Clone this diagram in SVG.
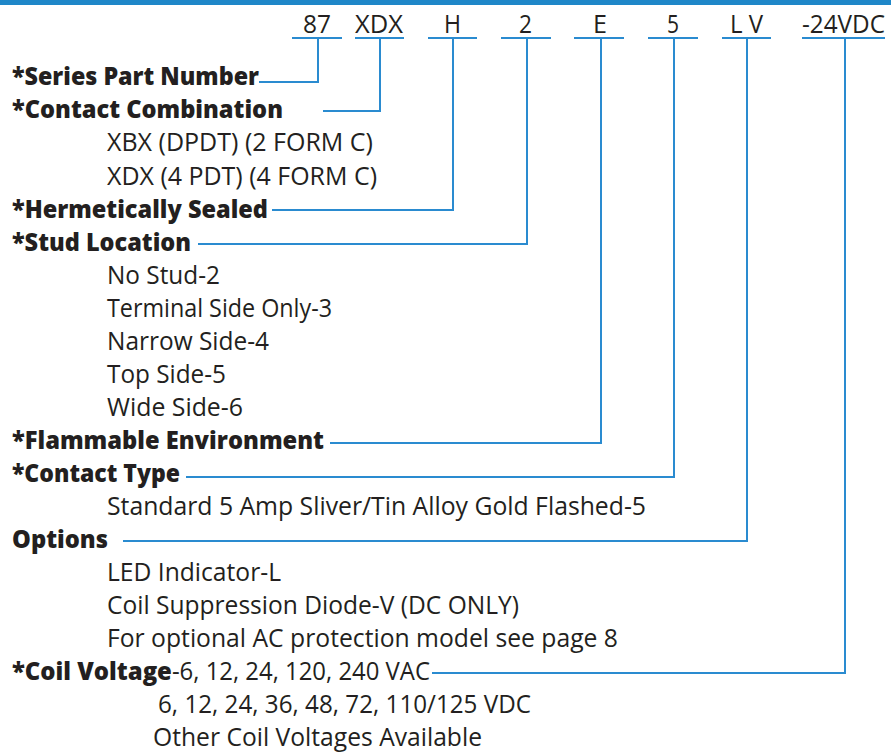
<svg xmlns="http://www.w3.org/2000/svg" width="891" height="755" viewBox="0 0 891 755">
<style>
text{font-family:"Open Sans","Noto Sans","Liberation Sans",sans-serif;font-size:25px;fill:#231f20}
.b{font-weight:800}
.c{fill:none;stroke:#2a8bd0;stroke-width:2}
</style>
<rect x="0" y="0" width="891" height="5" fill="#1f87c8"/>
<g id="code">
<g id="c-87"><text x="303" y="33" textLength="28" lengthAdjust="spacingAndGlyphs">87</text></g>
<g id="c-xdx"><text x="355" y="33" textLength="48" lengthAdjust="spacingAndGlyphs">XDX</text></g>
<g id="c-h"><text x="444" y="33" textLength="17" lengthAdjust="spacingAndGlyphs">H</text></g>
<g id="c-2"><text x="519" y="33" textLength="13" lengthAdjust="spacingAndGlyphs">2</text></g>
<g id="c-e"><text x="593" y="33" textLength="14" lengthAdjust="spacingAndGlyphs">E</text></g>
<g id="c-5"><text x="667" y="33" textLength="12" lengthAdjust="spacingAndGlyphs">5</text></g>
<g id="c-lv"><text x="730" y="33" textLength="33" lengthAdjust="spacingAndGlyphs">L V</text></g>
<g id="c-24vdc"><text x="802" y="33" textLength="83" lengthAdjust="spacingAndGlyphs">-24VDC</text></g>
</g>
<g id="connectors">
<path class="c" d="M292 38H342M355 38H404M428 38H477M501 38H551M574 38H624M648 38H698M722 38H771M802 38H885"/>
<polyline class="c" points="259,82 318,82 318,38"/>
<polyline class="c" points="323,111 380,111 380,38"/>
<polyline class="c" points="272,210 453,210 453,38"/>
<polyline class="c" points="198,244 527,244 527,38"/>
<polyline class="c" points="330,443 601,443 601,38"/>
<polyline class="c" points="186,477 674,477 674,38"/>
<polyline class="c" points="123,541 747,541 747,38"/>
<polyline class="c" points="432,673 845,673 845,38"/>
</g>
<g id="series"><text class="b" x="12" y="85" textLength="247" lengthAdjust="spacingAndGlyphs">*Series Part Number</text></g>
<g id="contact-combination">
<text class="b" x="12" y="118" textLength="271" lengthAdjust="spacingAndGlyphs">*Contact Combination</text>
<text x="107" y="151" textLength="266" lengthAdjust="spacingAndGlyphs">XBX (DPDT) (2 FORM C)</text>
<text x="107" y="185" textLength="270" lengthAdjust="spacingAndGlyphs">XDX (4 PDT) (4 FORM C)</text>
</g>
<g id="hermetic"><text class="b" x="12" y="218" textLength="256" lengthAdjust="spacingAndGlyphs">*Hermetically Sealed</text></g>
<g id="stud">
<text class="b" x="12" y="251" textLength="179" lengthAdjust="spacingAndGlyphs">*Stud Location</text>
<text x="107" y="284" textLength="113" lengthAdjust="spacingAndGlyphs">No Stud-2</text>
<text x="107" y="317" textLength="225" lengthAdjust="spacingAndGlyphs">Terminal Side Only-3</text>
<text x="107" y="350" textLength="162" lengthAdjust="spacingAndGlyphs">Narrow Side-4</text>
<text x="107" y="383" textLength="119" lengthAdjust="spacingAndGlyphs">Top Side-5</text>
<text x="107" y="416" textLength="136" lengthAdjust="spacingAndGlyphs">Wide Side-6</text>
</g>
<g id="flammable"><text class="b" x="12" y="449" textLength="312" lengthAdjust="spacingAndGlyphs">*Flammable Environment</text></g>
<g id="contact-type">
<text class="b" x="12" y="482" textLength="168" lengthAdjust="spacingAndGlyphs">*Contact Type</text>
<text x="107" y="515" textLength="539" lengthAdjust="spacingAndGlyphs">Standard 5 Amp Sliver/Tin Alloy Gold Flashed-5</text>
</g>
<g id="options">
<text class="b" x="12" y="548" textLength="96" lengthAdjust="spacingAndGlyphs">Options</text>
<text x="107" y="581" textLength="174" lengthAdjust="spacingAndGlyphs">LED Indicator-L</text>
<text x="107" y="614" textLength="412" lengthAdjust="spacingAndGlyphs">Coil Suppression Diode-V (DC ONLY)</text>
<text x="107" y="647" textLength="511" lengthAdjust="spacingAndGlyphs">For optional AC protection model see page 8</text>
</g>
<g id="coil-voltage">
<text x="12" y="680" textLength="418" lengthAdjust="spacingAndGlyphs"><tspan class="b">*Coil Voltage</tspan><tspan>-6, 12, 24, 120, 240 VAC</tspan></text>
<text x="158" y="713" textLength="373" lengthAdjust="spacingAndGlyphs">6, 12, 24, 36, 48, 72, 110/125 VDC</text>
<text x="153" y="746" textLength="329" lengthAdjust="spacingAndGlyphs">Other Coil Voltages Available</text>
</g>
</svg>
